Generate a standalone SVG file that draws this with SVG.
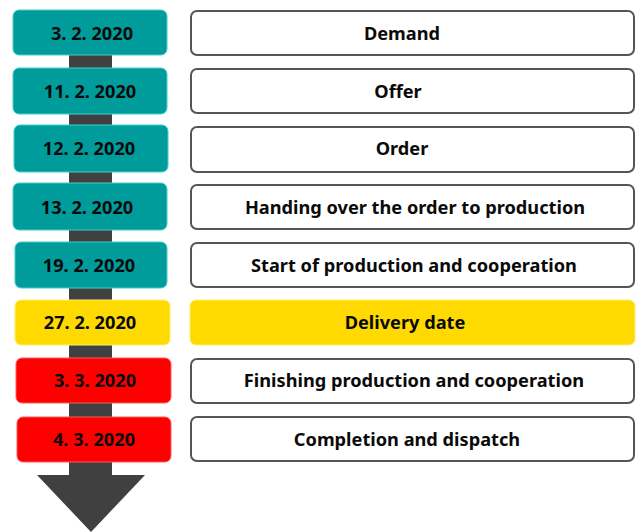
<svg xmlns="http://www.w3.org/2000/svg" width="637" height="532" viewBox="0 0 637 532">
  <style>
    text { font-family: "Noto Sans", "Open Sans", "Liberation Sans", sans-serif; font-weight: bold; font-size: 18.2px; fill: #0a0a0a; text-anchor: middle; }
    .teal { fill: #009c9c; stroke: #3fd0d0; stroke-width: 1; }
    .yellow { fill: #ffda00; stroke: #fff06a; stroke-width: 1; }
    .red { fill: #ff0000; stroke: #ff5a5a; stroke-width: 1; }
    .step { fill: #ffffff; stroke: #555555; stroke-width: 2; }
    .stepY { fill: #ffda00; stroke: #fff06a; stroke-width: 1; }
    .axis { fill: #404040; }
  </style>

  <!-- timeline shaft with arrowhead -->
  <g id="connectors">
    <rect class="axis" x="69" y="40" width="43" height="440"/>
    <polygon class="axis" points="37,475 145,475 91,532"/>
  </g>

  <g id="row1">
    <rect class="teal" x="13" y="10" width="154" height="45" rx="6"/>
    <text x="92" y="40">3. 2. 2020</text>
    <rect class="step" x="191" y="11" width="443" height="44" rx="6"/>
    <text x="402" y="40">Demand</text>
  </g>
  <g id="row2">
    <rect class="teal" x="13" y="68" width="154" height="46" rx="6"/>
    <text x="90" y="98">11. 2. 2020</text>
    <rect class="step" x="191" y="69" width="443" height="44" rx="6"/>
    <text x="398" y="98">Offer</text>
  </g>
  <g id="row3">
    <rect class="teal" x="14" y="125" width="154" height="47" rx="6"/>
    <text x="89" y="155">12. 2. 2020</text>
    <rect class="step" x="191" y="127" width="443" height="45" rx="6"/>
    <text x="402" y="155">Order</text>
  </g>
  <g id="row4">
    <rect class="teal" x="13" y="183" width="154" height="47" rx="6"/>
    <text x="87" y="214">13. 2. 2020</text>
    <rect class="step" x="191" y="185" width="443" height="44" rx="6"/>
    <text x="415" y="214">Handing over the order to production</text>
  </g>
  <g id="row5">
    <rect class="teal" x="15" y="242" width="152" height="46" rx="6"/>
    <text x="89" y="272">19. 2. 2020</text>
    <rect class="step" x="191" y="243" width="443" height="44" rx="6"/>
    <text x="414" y="272">Start of production and cooperation</text>
  </g>
  <g id="row6">
    <rect class="yellow" x="15" y="300" width="155" height="45" rx="6"/>
    <text x="90" y="329">27. 2. 2020</text>
    <rect class="stepY" x="190" y="300" width="445" height="45" rx="6"/>
    <text x="405" y="329">Delivery date</text>
  </g>
  <g id="row7">
    <rect class="red" x="16" y="358" width="155" height="45" rx="6"/>
    <text x="95" y="387">3. 3. 2020</text>
    <rect class="step" x="191" y="359" width="443" height="44" rx="6"/>
    <text x="414" y="387">Finishing production and cooperation</text>
  </g>
  <g id="row8">
    <rect class="red" x="17" y="417" width="154" height="45" rx="6"/>
    <text x="94" y="446">4. 3. 2020</text>
    <rect class="step" x="191" y="417" width="443" height="44" rx="6"/>
    <text x="407" y="446">Completion and dispatch</text>
  </g>
</svg>
